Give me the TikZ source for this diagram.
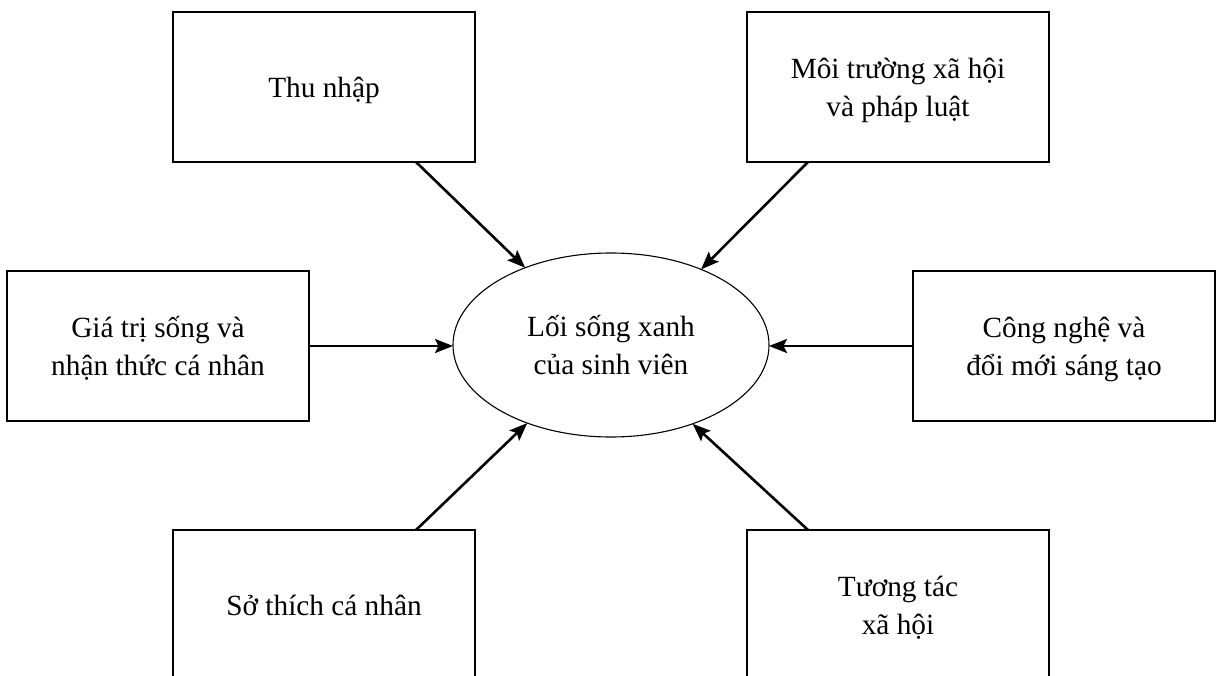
\documentclass[tikz,border=0pt]{standalone}
\usepackage{fontspec}
\setmainfont{Liberation Serif}
\usetikzlibrary{arrows.meta,shapes.geometric,calc}
\begin{document}
\begin{tikzpicture}[x=1pt,y=-1pt,
  every node/.style={font=\fontsize{29.3}{38}\selectfont, align=center, outer sep=0pt, inner sep=0pt, text depth=-4pt},
  factor/.style={draw, line width=1.4pt, rectangle, minimum width=302pt, minimum height=150pt},
  center/.style={draw, line width=1.1pt, ellipse, minimum width=316pt, minimum height=184pt},
  link/.style={line width=2.6pt, -{Stealth[length=18pt,width=14pt,inset=3.5pt]}}]
\useasboundingbox (0,0) rectangle (1220,676);
\node[center] (c) at (611,345) {Lối sống xanh\\của sinh viên};
\node[factor] (tl) at (324,87) {Thu nhập};
\node[factor] (tr) at (898,87) {Môi trường xã hội\\và pháp luật};
\node[factor] (lb) at (158,346) {Giá trị sống và\\nhận thức cá nhân};
\node[factor] (rb) at (1064,346) {Công nghệ và\\đổi mới sáng tạo};
\node[factor] (bl) at (324,605) {Sở thích cá nhân};
\node[factor] (br) at (898,605) {Tương tác\\xã hội};
\coordinate (tls) at ([xshift=-59pt]tl.south east);
\coordinate (trs) at ([xshift=61pt]tr.south west);
\coordinate (bls) at ([xshift=-59pt]bl.north east);
\coordinate (brs) at ([xshift=61pt]br.north west);
\draw[link] (tls) -- (c.138.8);
\draw[link] (trs) -- (c.40.9);
\draw[link] (bls) -- (c.223.3);
\draw[link] (brs) -- (c.316.7);
\draw[link] (lb.east) -- (lb.east -| c.west);
\draw[link] (rb.west) -- (rb.west -| c.east);
\end{tikzpicture}
\end{document}
